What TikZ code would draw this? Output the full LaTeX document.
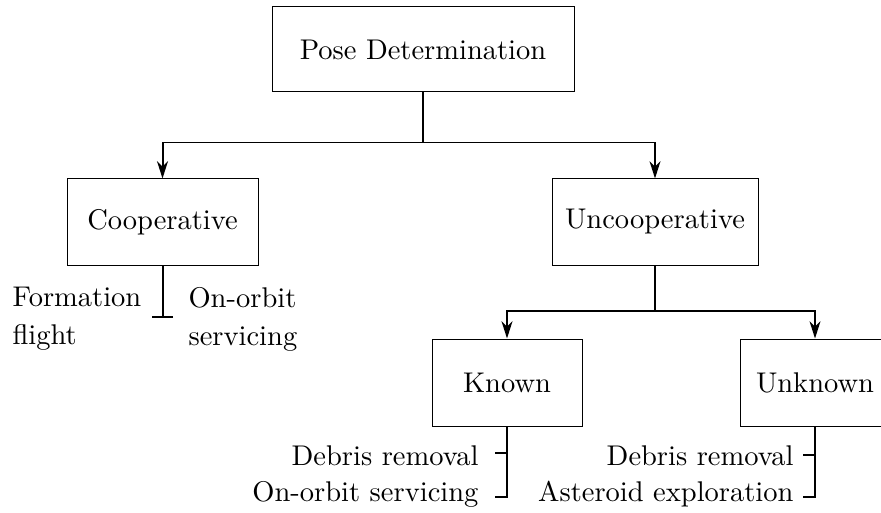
\documentclass[tikz,border=0pt]{standalone}
\usetikzlibrary{arrows.meta}
\def\pu{0.3509pt}
\begin{document}
\begin{tikzpicture}[x=0.3509pt, y=-0.3509pt,
  box/.style={draw, line width=0.35pt, inner sep=0pt, minimum height=86*\pu},
  conn/.style={line width=0.7pt},
  arr/.style={conn, -{Stealth[length=6pt,width=3.8pt,inset=1.8pt]}},
  lab/.style={inner sep=0pt, font=\fontsize{10pt}{13.33pt}\selectfont}]
\useasboundingbox (0,0) rectangle (881,513);
% boxes
\node[box, minimum width=302*\pu, minimum height=85*\pu] (pose) at (423,49.5) {Pose Determination};
\node[box, minimum width=191*\pu] (coop) at (162.5,222) {Cooperative};
\node[box, minimum width=206*\pu] (uncoop) at (655,222) {Uncooperative};
\node[box, minimum width=150*\pu, minimum height=87*\pu] (known) at (507,382.5) {Known};
\node[box, minimum width=150*\pu, minimum height=87*\pu] (unknown) at (815,382.5) {Unknown};
% top level connectors
\coordinate (j1) at (423,142.5);
\draw[conn] (pose.south) -- (j1);
\draw[arr] (j1) -| (coop.north);
\draw[arr] (j1) -| (uncoop.north);
\coordinate (j2) at (655,311);
\draw[conn] (uncoop.south) -- (j2);
\draw[arr] (j2) -| (known.north);
\draw[arr] (j2) -| (unknown.north);
% cooperative applications
\coordinate (cb) at (162.5,318);
\draw[conn, -{Bar[width=7.4pt]}] (coop.south) -- (cb);
\node[lab, align=left, anchor=north west] (form) at (12,286.5) {Formation\\flight};
\node[lab, align=left, anchor=north west] (oos) at (188,286.5) {On-orbit\\servicing};
% known applications
\coordinate (k1) at (507,453);
\coordinate (k2) at (507,497);
\draw[conn] (known.south) -- (k2) -- ++(-12,0);
\draw[conn] (k1) -- ++(-12,0);
\node[lab, anchor=base east] (kdr) at (479,465) {Debris removal};
\node[lab, anchor=base east] (kos) at (479,501) {On-orbit servicing};
% unknown applications
\coordinate (u1) at (815,455);
\coordinate (u2) at (815,497);
\draw[conn] (unknown.south) -- (u2) -- ++(-12,0);
\draw[conn] (u1) -- ++(-12,0);
\node[lab, anchor=base east] (udr) at (794,465) {Debris removal};
\node[lab, anchor=base east] (uae) at (794,501) {Asteroid exploration};
\end{tikzpicture}
\end{document}
